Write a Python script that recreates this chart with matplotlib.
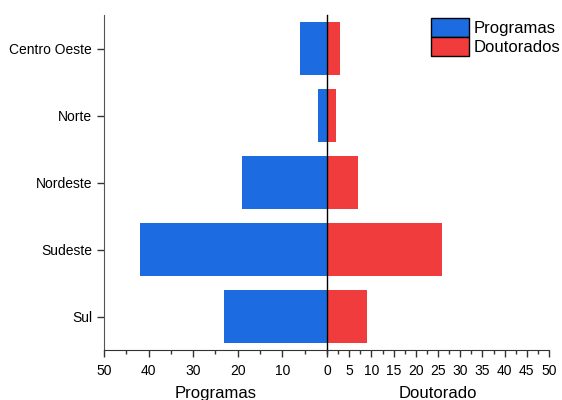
import matplotlib
matplotlib.use("Agg")
import matplotlib.pyplot as plt
from matplotlib.ticker import MultipleLocator, FixedLocator
from matplotlib.patches import Patch

plt.rcParams['font.family'] = ['Liberation Sans', 'DejaVu Sans']

regioes = ["Sul", "Sudeste", "Nordeste", "Norte", "Centro Oeste"]
programas = [23, 42, 19, 2, 6]
doutorados = [9, 26, 7, 2, 3]

blue = "#1c6be0"
red = "#f03c3c"

fig = plt.figure(figsize=(5.62, 4.0), dpi=100)
left = 0.185
right = 0.977
mid = 327 / 562
bottom = 1 - 350 / 400
top = 1 - 15 / 400

axL = fig.add_axes([left, bottom, mid - left, top - bottom])
axR = fig.add_axes([mid, bottom, right - mid, top - bottom], sharey=axL)

y = list(range(len(regioes)))
axL.barh(y, programas, height=0.8, color=blue, edgecolor="none")
axR.barh(y, doutorados, height=0.8, color=red, edgecolor="none")

axL.set_xlim(50, 0)
axR.set_xlim(0, 50)
axL.set_ylim(-0.5, 4.5)
axL.set_yticks(y)
axL.set_yticklabels(regioes)

axL.xaxis.set_major_locator(FixedLocator([50, 40, 30, 20, 10]))
axL.xaxis.set_minor_locator(FixedLocator([45, 35, 25, 15, 5, 0]))
axR.xaxis.set_major_locator(MultipleLocator(5))
axR.xaxis.set_minor_locator(MultipleLocator(2.5))

for ax in (axL, axR):
    ax.spines['top'].set_visible(False)
    ax.spines['right'].set_visible(False)
    ax.spines['bottom'].set_color("#333333")
    ax.tick_params(axis='x', which='major', length=5, width=1, labelsize=10, color="#333333", pad=5)
    ax.tick_params(axis='x', which='minor', length=3, width=1, color="#333333")
    ax.patch.set_alpha(0)

axL.spines['left'].set_color("#555555")
axL.tick_params(axis='y', length=5, width=1, labelsize=10, color="#333333")
axR.spines['left'].set_color("black")
axR.spines['left'].set_linewidth(1.0)
axR.tick_params(axis='y', left=False, labelleft=False)

axL.set_xlabel("Programas", fontsize=12, labelpad=6)
axR.set_xlabel("Doutorado", fontsize=12, labelpad=6)

handles = [Patch(facecolor=blue, edgecolor="black", label="Programas"),
           Patch(facecolor=red, edgecolor="black", label="Doutorados")]
axR.legend(handles=handles, loc="upper right", bbox_to_anchor=(1.08, 1.01), frameon=False,
           fontsize=12, handlelength=2.3, handleheight=1.35, handletextpad=0.25,
           labelspacing=0.0, borderaxespad=0.0)

fig.savefig("out.png", dpi=100)
